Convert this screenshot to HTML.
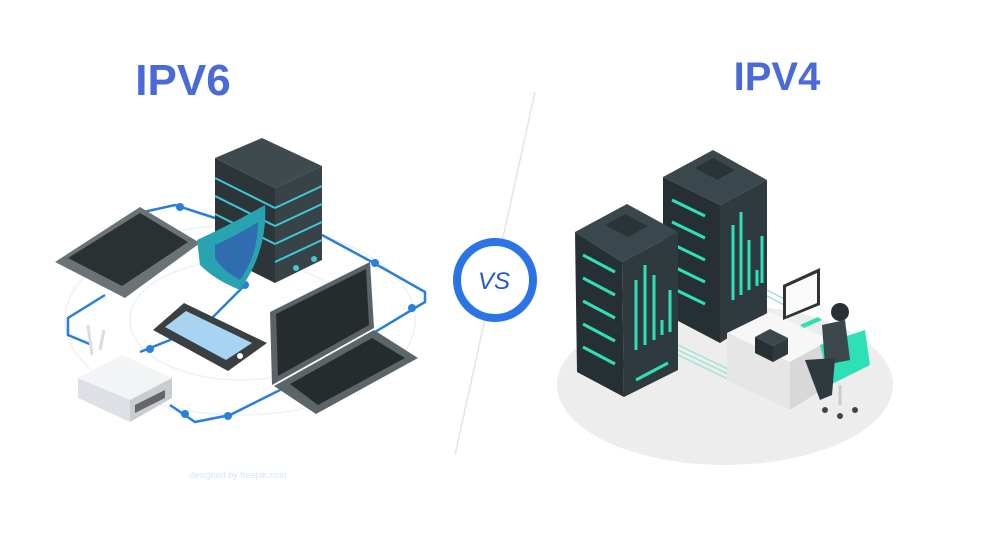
<!DOCTYPE html>
<html><head><meta charset="utf-8"><style>
html,body{margin:0;padding:0;background:#fff;}
svg{display:block;}
</style></head><body>
<svg width="990" height="550" viewBox="0 0 990 550" xmlns="http://www.w3.org/2000/svg">
<rect width="990" height="550" fill="#fff"/>
<!-- divider -->
<line x1="535" y1="92" x2="455" y2="455" stroke="#e4e4e4" stroke-width="1.5"/>
<!-- titles -->
<text x="183" y="95" text-anchor="middle" font-family="Liberation Sans, sans-serif" font-weight="bold" font-size="44" fill="#4a6ad8">IPV6</text>
<text x="777" y="90" text-anchor="middle" font-family="Liberation Sans, sans-serif" font-weight="bold" font-size="40" fill="#4a6ad8">IPV4</text>
<!-- VS -->
<circle cx="495" cy="280" r="38" fill="#fff" stroke="#2a74e8" stroke-width="8"/>
<text x="494" y="289" text-anchor="middle" font-family="Liberation Sans, sans-serif" font-style="italic" font-size="24" fill="#2358c8">VS</text>

<!-- LEFT: faint rings -->
<ellipse cx="240" cy="320" rx="175" ry="95" fill="none" stroke="#eef2f6" stroke-width="1.5"/>
<ellipse cx="240" cy="320" rx="110" ry="60" fill="none" stroke="#eef2f6" stroke-width="1.5"/>
<!-- blue network lines -->
<g fill="none" stroke="#2a7fd8" stroke-width="2.5">
<path d="M130 215 L175 205 L215 218"/>
<path d="M105 295 L68 318 L68 335 L92 345"/>
<path d="M140 352 L170 340 L195 325"/>
<path d="M200 330 L245 285"/>
<path d="M322 235 L372 262 L425 292 L425 302 L370 335"/>
<path d="M170 405 L195 422 L230 415 L290 385"/>
</g>
<g fill="#2a7fd8">
<circle cx="180" cy="207" r="4"/><circle cx="150" cy="349" r="4"/><circle cx="245" cy="285" r="4"/>
<circle cx="375" cy="263" r="4"/><circle cx="412" cy="308" r="4"/><circle cx="185" cy="414" r="4"/><circle cx="228" cy="416" r="4"/>
</g>
<!-- tablet -->
<polygon points="55,262 140,207 200,243 125,298" fill="#6a7476"/>
<polygon points="68,258 140,213 188,242 122,286" fill="#2b3133"/>
<!-- server -->
<polygon points="215,158 262,138 322,166 275,188" fill="#3f4a4e"/>
<polygon points="215,158 275,188 275,283 215,253" fill="#2c3639"/>
<polygon points="275,188 322,166 322,260 275,283" fill="#384347"/>
<g stroke="#3ec8d8" stroke-width="2">
<line x1="215" y1="178" x2="275" y2="208"/><line x1="275" y1="208" x2="322" y2="186"/>
<line x1="215" y1="196" x2="275" y2="226"/><line x1="275" y1="226" x2="322" y2="204"/>
<line x1="215" y1="214" x2="275" y2="244"/><line x1="275" y1="244" x2="322" y2="222"/>
<line x1="275" y1="262" x2="322" y2="240"/>
</g>
<circle cx="296" cy="268" r="3" fill="#3ec8d8"/><circle cx="314" cy="259" r="3" fill="#3ec8d8"/>
<!-- shield -->
<path d="M197 240 Q230 225 265 205 Q268 250 240 290 Q215 280 200 265 Z" fill="#2aa3b0"/>
<path d="M215 245 Q238 235 258 222 Q258 255 240 280 Q222 270 215 258 Z" fill="#2f6db0"/>
<!-- phone -->
<polygon points="153,330 184,303 267,343 228,371" fill="#3a4042"/>
<polygon points="165,327 186,311 252,343 226,360" fill="#a8d4f2"/>
<circle cx="240" cy="356" r="3" fill="#fff"/>
<!-- laptop -->
<polygon points="270,312 370,262 374,328 272,385" fill="#5a6468"/>
<polygon points="276,314 366,269 369,325 278,376" fill="#262c2e"/>
<polygon points="274,386 374,330 418,358 316,414" fill="#5c6669"/>
<polygon points="290,384 372,338 405,358 318,405" fill="#262c2e"/>
<!-- router -->
<line x1="92" y1="355" x2="88" y2="325" stroke="#d8dde2" stroke-width="3"/>
<line x1="100" y1="350" x2="104" y2="330" stroke="#d8dde2" stroke-width="3"/>
<polygon points="78,378 122,355 172,378 130,400" fill="#f2f4f6"/>
<polygon points="78,378 130,400 130,422 78,398" fill="#dde1e5"/>
<polygon points="130,400 172,378 172,398 130,422" fill="#c8cdd2"/>
<polygon points="135,405 165,390 165,398 135,413" fill="#666"/>
<text x="238" y="478" text-anchor="middle" font-family="Liberation Sans, sans-serif" font-size="9" fill="#d6e6f4">designed by freepik.com</text>

<!-- RIGHT: floor -->
<ellipse cx="725" cy="385" rx="168" ry="80" fill="#ededed"/>
<!-- cables -->
<g stroke="#9fe3d4" stroke-width="1.5" fill="none">
<path d="M678 345 L730 370"/><path d="M678 350 L730 375"/><path d="M678 355 L730 380"/>
<path d="M767 290 L790 302"/><path d="M767 296 L790 308"/>
</g>
<!-- server 2 -->
<polygon points="663,177 713,150 767,180 720,205" fill="#3a474c"/>
<polygon points="695,168 713,158 735,170 717,180" fill="#2a3438"/>
<polygon points="663,177 720,205 720,343 663,313" fill="#263034"/>
<polygon points="720,205 767,180 767,313 720,343" fill="#2e3a3e"/>
<g stroke="#2ee0b8" stroke-width="3">
<line x1="672" y1="200" x2="705" y2="216"/><line x1="672" y1="222" x2="705" y2="238"/><line x1="672" y1="244" x2="705" y2="260"/><line x1="672" y1="266" x2="705" y2="282"/><line x1="672" y1="288" x2="705" y2="304"/>
<line x1="733" y1="300" x2="733" y2="225"/><line x1="741" y1="295" x2="741" y2="212"/><line x1="749" y1="290" x2="749" y2="240"/><line x1="757" y1="286" x2="757" y2="270"/><line x1="762" y1="283" x2="762" y2="236"/>
</g>
<!-- server 1 -->
<polygon points="575,232 627,204 678,232 622,262" fill="#3a474c"/>
<polygon points="605,225 625,214 648,226 628,237" fill="#2a3438"/>
<polygon points="575,232 622,262 624,397 577,372" fill="#263034"/>
<polygon points="622,262 678,232 678,370 624,397" fill="#2e3a3e"/>
<g stroke="#2ee0b8" stroke-width="3">
<line x1="583" y1="255" x2="615" y2="272"/><line x1="583" y1="278" x2="615" y2="295"/><line x1="583" y1="301" x2="615" y2="318"/><line x1="583" y1="324" x2="615" y2="341"/><line x1="583" y1="347" x2="615" y2="364"/>
<line x1="636" y1="350" x2="636" y2="280"/><line x1="645" y1="345" x2="645" y2="265"/><line x1="654" y1="340" x2="654" y2="275"/><line x1="662" y1="335" x2="662" y2="320"/><line x1="670" y1="332" x2="670" y2="290"/>
<line x1="636" y1="380" x2="668" y2="363"/>
</g>
<!-- desk -->
<polygon points="727,333 770,312 830,340 790,362" fill="#f7f7f7"/>
<polygon points="727,333 790,362 790,410 727,380" fill="#e6e6e6"/>
<polygon points="790,362 830,340 830,385 790,410" fill="#d8d8d8"/>
<!-- box on desk -->
<polygon points="755,337 770,329 788,338 773,346" fill="#3a474c"/>
<polygon points="755,337 773,346 773,362 755,353" fill="#263034"/>
<polygon points="773,346 788,338 788,354 773,362" fill="#2e3a3e"/>
<!-- monitor -->
<polygon points="783,285 820,268 820,305 783,320" fill="#2c3438"/>
<polygon points="786,287 817,273 817,303 786,316" fill="#fafafa"/>
<polygon points="800,325 818,317 822,320 804,328" fill="#2ee0b8"/>
<!-- person & chair -->
<polygon points="820,345 865,330 870,365 830,385" fill="#2ee0b8"/>
<circle cx="840" cy="312" r="9" fill="#263034"/>
<polygon points="822,325 845,320 850,360 825,365" fill="#3c474b"/>
<polygon points="805,360 835,358 832,395 820,400" fill="#2e3a3e"/>
<line x1="840" y1="385" x2="840" y2="405" stroke="#ccc" stroke-width="3"/>
<circle cx="825" cy="410" r="3" fill="#444"/><circle cx="855" cy="410" r="3" fill="#444"/><circle cx="840" cy="416" r="3" fill="#444"/>
</svg>
</body></html>
